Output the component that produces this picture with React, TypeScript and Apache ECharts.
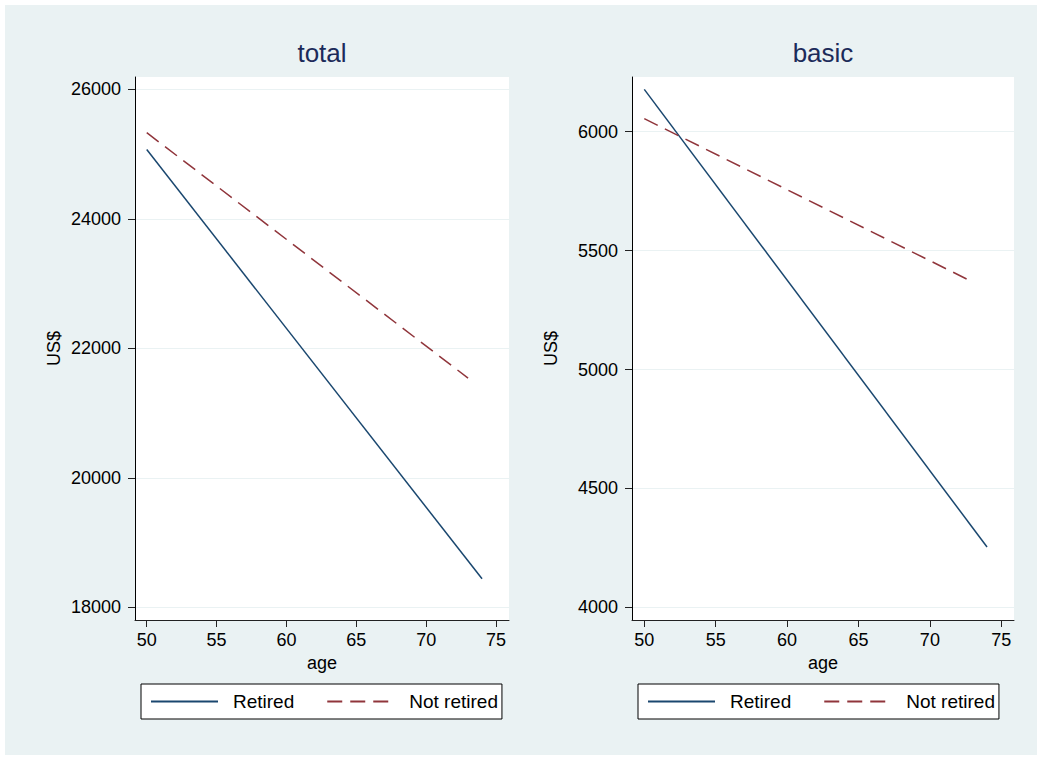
import React, { useEffect, useRef } from "react";
import * as echarts from "echarts";

const panelTitles = ["total", "basic"];
const retiredAges = [50, 74];
const notRetiredAges = [50, 73];
const totalRetired = [25070, 18440];
const totalNotRetired = [25330, 21540];
const basicRetired = [6178, 4254];
const basicNotRetired = [6055, 5368];
const xTicks = [50, 55, 60, 65, 70, 75];
const totalYTicks = [18000, 20000, 22000, 24000, 26000];
const basicYTicks = [4000, 4500, 5000, 5500, 6000];
const seriesNames = ["Retired", "Not retired"];

const FONT = "'Liberation Sans', Arial, Helvetica, sans-serif";
const NAVY = "#1a476f";
const MAROON = "#90353b";

export default function App() {
  const ref = useRef<HTMLDivElement>(null);
  useEffect(() => {
    if (!ref.current) return;
    const chart = echarts.init(ref.current, undefined, { renderer: "svg" });
    const grids = [
      { left: 135, right: 1042 - 509, top: 77, bottom: 760 - 620 },
      { left: 632, right: 1042 - 1014, top: 77, bottom: 760 - 620 },
    ];
    const xRanges = [
      [49.16, 75.93],
      [49.14, 75.89],
    ];
    const yRanges = [
      [17804, 26190],
      [3947, 6230],
    ];
    const yTicks = [totalYTicks, basicYTicks];
    const mkX = (i: number) => ({
      type: "value",
      gridIndex: i,
      min: xRanges[i][0],
      max: xRanges[i][1],
      name: "age",
      nameLocation: "middle",
      nameGap: 32,
      nameTextStyle: { color: "#000", fontSize: 18, fontFamily: FONT },
      axisLine: { show: true, onZero: false, lineStyle: { color: "#222", width: 1 } },
      axisTick: { show: true, length: 7, customValues: xTicks, lineStyle: { color: "#222" } },
      axisLabel: { show: true, customValues: xTicks, color: "#000", fontSize: 18, fontFamily: FONT, margin: 11, formatter: (v: number) => String(v) },
      splitLine: { show: false },
    });
    const mkY = (i: number) => ({
      type: "value",
      gridIndex: i,
      min: yRanges[i][0],
      max: yRanges[i][1],
      name: "US$",
      nameLocation: "middle",
      nameGap: 72,
      nameRotate: 90,
      nameTextStyle: { color: "#000", fontSize: 18, fontFamily: FONT },
      axisLine: { show: true, onZero: false, lineStyle: { color: "#000", width: 1 } },
      axisTick: { show: true, length: 7, customValues: yTicks[i], lineStyle: { color: "#222" } },
      axisLabel: { show: true, customValues: yTicks[i], color: "#000", fontSize: 18, fontFamily: FONT, margin: 14, formatter: (v: number) => String(v) },
      splitLine: { show: true, lineStyle: { color: "#eaf2f3", width: 1 } },
    });
    const pairs = (xs: number[], ys: number[]) => xs.map((x, k) => [x, ys[k]]);
    const mkSeries = (name: string, i: number, xs: number[], ys: number[], dashed: boolean) => ({
      type: "line",
      name,
      xAxisIndex: i,
      yAxisIndex: i,
      data: pairs(xs, ys),
      showSymbol: false,
      symbol: "none",
      lineStyle: { color: dashed ? MAROON : NAVY, width: 1.5, type: dashed ? [15, 8] : "solid" },
      itemStyle: { color: dashed ? MAROON : NAVY },
    });
    const mkLegend = (left: number) => ({
      left,
      top: 684,
      orient: "horizontal",
      data: seriesNames,
      itemWidth: 67,
      itemHeight: 14,
      itemGap: 32,
      padding: [8, 4, 8, 9],
      backgroundColor: "#fff",
      borderColor: "#000",
      borderWidth: 1,
      borderRadius: 0,
      selectedMode: false,
      itemStyle: { opacity: 0 },
      textStyle: { color: "#000", fontSize: 19, fontFamily: FONT, padding: [0, 0, 0, 10] },
    });
    chart.setOption({
      animation: false,
      backgroundColor: "transparent",
      title: [
        { text: panelTitles[0], left: 322, top: 40, textAlign: "center", padding: 0, textStyle: { color: "#1c2b5a", fontSize: 26, fontWeight: "normal", fontFamily: FONT } },
        { text: panelTitles[1], left: 823, top: 40, textAlign: "center", padding: 0, textStyle: { color: "#1c2b5a", fontSize: 26, fontWeight: "normal", fontFamily: FONT } },
      ],
      legend: [mkLegend(141), mkLegend(638)],
      grid: grids.map((g) => ({ ...g, show: true, backgroundColor: "#fff", borderWidth: 0, containLabel: false })),
      xAxis: [mkX(0), mkX(1)],
      yAxis: [mkY(0), mkY(1)],
      series: [
        mkSeries(seriesNames[0], 0, retiredAges, totalRetired, false),
        mkSeries(seriesNames[1], 0, notRetiredAges, totalNotRetired, true),
        mkSeries(seriesNames[0], 1, retiredAges, basicRetired, false),
        mkSeries(seriesNames[1], 1, notRetiredAges, basicNotRetired, true),
      ],
    });
    return () => chart.dispose();
  }, []);
  return (
    <div style={{ position: "fixed", left: 0, top: 0, width: 1042, height: 760, background: "#fff" }}>
      <div style={{ position: "absolute", left: 5, top: 5, width: 1032, height: 750, background: "#eaf2f3" }} />
      <div ref={ref} style={{ position: "absolute", left: 0, top: 0, width: 1042, height: 760 }} />
    </div>
  );
}
